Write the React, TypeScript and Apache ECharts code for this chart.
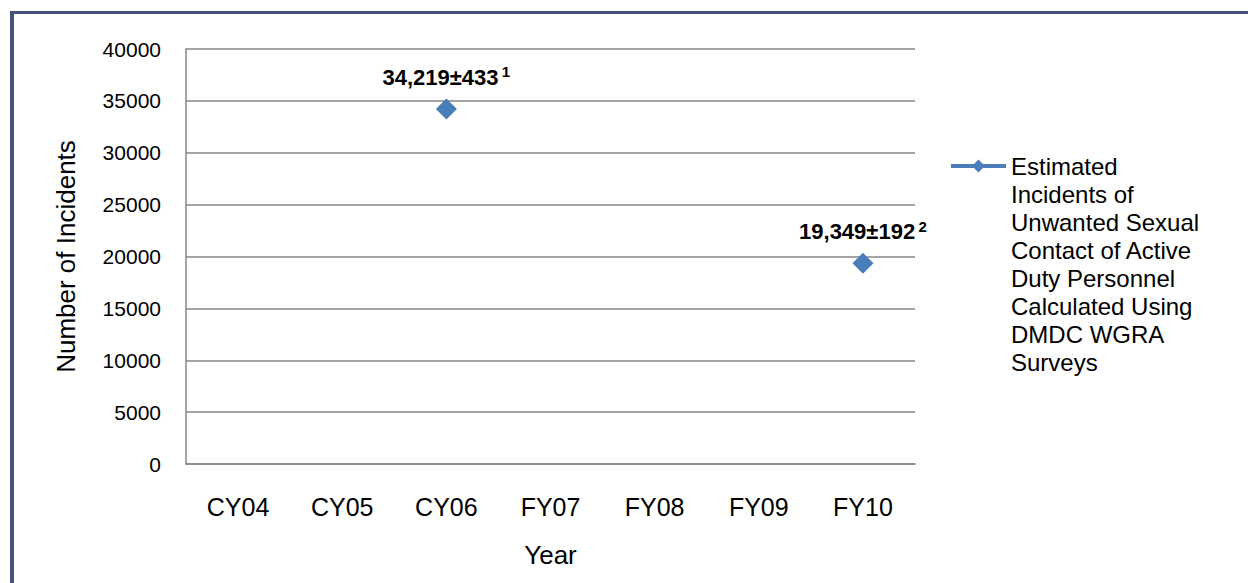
import React, { useEffect, useRef } from "react";
import * as echarts from "echarts";

const categories = ["CY04", "CY05", "CY06", "FY07", "FY08", "FY09", "FY10"];
const incidents: (number | null)[] = [null, null, 34219, null, null, null, 19349];
const margins: (number | null)[] = [null, null, 433, null, null, null, 192];
const notes: (string | null)[] = [null, null, "1", null, null, null, "2"];
const seriesName =
  "Estimated Incidents of Unwanted Sexual Contact of Active Duty Personnel Calculated Using DMDC WGRA Surveys";
const legendLines = [
  "Estimated",
  "Incidents of",
  "Unwanted Sexual",
  "Contact of Active",
  "Duty Personnel",
  "Calculated Using",
  "DMDC WGRA",
  "Surveys",
];
const yMin = 0;
const yMax = 40000;
const yInterval = 5000;

const FONT = "'Liberation Sans', Arial, Helvetica, sans-serif";
const LINE_H = 28;

export default function App() {
  const ref = useRef<HTMLDivElement>(null);
  useEffect(() => {
    if (!ref.current) return;
    const chart = echarts.init(ref.current, undefined, { renderer: "svg" });
    const blank = legendLines.length - 1;
    const totalLines = blank + legendLines.length;
    chart.setOption({
      animation: false,
      backgroundColor: "#ffffff",
      textStyle: { fontFamily: FONT },
      graphic: [
        { type: "rect", shape: { x: 10, y: 11, width: 1238, height: 3 }, style: { fill: "#44547e" }, silent: true },
        { type: "rect", shape: { x: 10, y: 11, width: 4, height: 572 }, style: { fill: "#44547e" }, silent: true },
      ],
      grid: { left: 186, right: 333, top: 49, bottom: 119, containLabel: false },
      legend: {
        left: 949,
        top: 166 - (totalLines * LINE_H) / 2,
        padding: 0,
        itemWidth: 55,
        itemHeight: 16,
        itemGap: 0,
        lineStyle: { width: 4 },
        formatter: () => "\n".repeat(blank) + legendLines.join("\n"),
        textStyle: {
          fontFamily: FONT,
          fontSize: 24,
          color: "#000",
          lineHeight: LINE_H,
        },
        data: [seriesName],
      },
      xAxis: {
        type: "category",
        data: categories,
        boundaryGap: true,
        name: "Year",
        nameLocation: "middle",
        nameGap: 78,
        nameTextStyle: { fontFamily: FONT, fontSize: 26, color: "#000" },
        axisLine: { lineStyle: { color: "#868686", width: 1.5 } },
        axisTick: { show: false },
        axisLabel: { fontFamily: FONT, fontSize: 25, color: "#000", margin: 30 },
      },
      yAxis: {
        type: "value",
        min: yMin,
        max: yMax,
        interval: yInterval,
        name: "Number of Incidents",
        nameLocation: "middle",
        nameGap: 107,
        nameTextStyle: { fontFamily: FONT, fontSize: 26, color: "#000" },
        axisLine: { show: true, lineStyle: { color: "#868686", width: 1.5 } },
        axisTick: { show: false },
        axisLabel: {
          fontFamily: FONT,
          fontSize: 21,
          color: "#000",
          margin: 25,
          formatter: (v: number) => String(v),
        },
        splitLine: { lineStyle: { color: "#868686", width: 1.5 } },
      },
      series: [
        {
          name: seriesName,
          type: "line",
          data: incidents,
          connectNulls: false,
          symbol: "diamond",
          symbolSize: 21,
          itemStyle: { color: "#4a7ebb" },
          lineStyle: { color: "#4a7ebb", width: 4 },
          label: {
            show: true,
            position: "top",
            distance: 8,
            formatter: (p: any) => {
              const i = p.dataIndex;
              const v = incidents[i];
              if (v == null) return "";
              return `{b|${v.toLocaleString("en-US")}±${margins[i]}} {s|${notes[i]}}`;
            },
            rich: {
              b: { fontFamily: FONT, fontSize: 22, fontWeight: "bold", color: "#000", lineHeight: 26 },
              s: { fontFamily: FONT, fontSize: 15, fontWeight: "bold", color: "#000", verticalAlign: "top", lineHeight: 26 },
            },
          },
        },
      ],
    });
    return () => chart.dispose();
  }, []);
  return (
    <div
      ref={ref}
      style={{ position: "absolute", left: 0, top: 0, width: 1248, height: 583 }}
    />
  );
}
